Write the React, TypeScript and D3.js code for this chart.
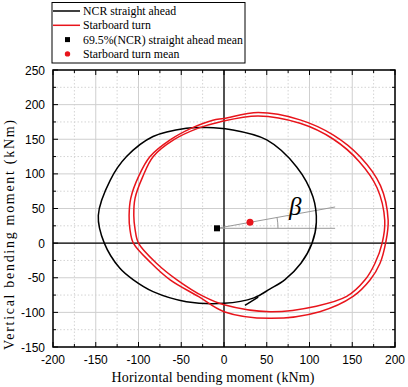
import React from "react";
import * as d3 from "d3";

// ---- data ----
const xTicks = [-200, -150, -100, -50, 0, 50, 100, 150, 200];
const yTicks = [-150, -100, -50, 0, 50, 100, 150, 200, 250];

// NCR straight ahead loop [x, y] (kNm)
const ncrLoop: [number, number][] = [
  [-20, 167], [7, 164], [50, 149], [85, 110], [104, 67], [108, 30],
  [103, 0], [90, -29], [71, -53], [54, -66], [35, -79], [0, -87],
  [-44, -84.5], [-83, -70], [-106, -53], [-122, -36], [-140, 0], [-147, 40],
  [-133, 91], [-114, 125], [-83, 154], [-44, 166],
];

// Starboard turn, two laps
const starboardLap1: [number, number][] = [
  [40, 188.5], [89, 178], [128, 156], [159, 125], [183, 83], [192, 33],
  [189, 0], [182.5, -29], [171, -53], [151, -77], [112, -99],
  [54, -108.6], [0, -99], [-30, -77], [-63, -53], [-85, -29], [-106, 0],
  [-110, 20], [-111, 40], [-109, 65], [-100, 96], [-86.5, 125], [-63, 149],
  [-38, 166], [-13, 177.5], [0, 180],
];
const starboardLap2: [number, number][] = [
  [40, 183.6], [89, 173], [128, 150], [158, 118], [179, 80], [188, 33],
  [185, 0], [176.6, -29], [165, -53], [143.5, -77], [108, -91],
  [54, -99], [0, -89], [-24, -77], [-55, -53], [-79, -29], [-100, 0],
  [-104, 20], [-105.5, 40], [-104, 65], [-95, 96], [-82.7, 125], [-59, 149],
  [-30, 166], [-5, 175],
];

const ncrMean: [number, number] = [-8.2, 21.4];
const starboardMean: [number, number] = [30.4, 30];
const betaEndX = 130;
// direction arrow on the NCR loop (tip, tail)
const arrowTip: [number, number] = [40, -78];
const arrowTail: [number, number] = [24.5, -90];

const W = 408;
const H = 387;
const margin = { left: 53, right: 13, top: 70, bottom: 40 };

export default function App() {
  const x = d3.scaleLinear().domain([-200, 200]).range([margin.left, W - margin.right]);
  const y = d3.scaleLinear().domain([-150, 250]).range([H - margin.bottom, margin.top]);
  const [x0, x1] = x.range();
  const [y0, y1] = y.range(); // y0 bottom, y1 top

  const loop = d3
    .line<[number, number]>()
    .x(d => x(d[0]))
    .y(d => y(d[1]))
    .curve(d3.curveCatmullRomClosed.alpha(0.5));

  const minorX = d3.range(-175, 200, 50);
  const minorY = d3.range(-125, 250, 50);

  // beta construction (screen space)
  const ox = x(ncrMean[0]);
  const oy = y(ncrMean[1]);
  const slope = (starboardMean[1] - ncrMean[1]) / (starboardMean[0] - ncrMean[0]);
  const betaEndY = ncrMean[1] + slope * (betaEndX - ncrMean[0]);
  const ang = Math.atan2(oy - y(betaEndY), x(betaEndX) - ox);
  const r = 61;

  const serif = "'Liberation Serif', 'Times New Roman', serif";
  const sans = "'Liberation Sans', Arial, sans-serif";

  const legendRows = [
    { kind: "line", color: "#000", text: "NCR straight ahead" },
    { kind: "line", color: "#e8141b", text: "Starboard turn" },
    { kind: "square", color: "#000", text: "69.5%(NCR) straight ahead mean" },
    { kind: "circle", color: "#e8141b", text: "Starboard turn mean" },
  ];

  return (
    <div style={{ position: "fixed", left: 0, top: 0 }}>
      <svg width={W} height={H} style={{ display: "block", background: "#fff" }}>
        {/* grid */}
        {minorX.map(v => (
          <line key={"mx" + v} x1={x(v)} x2={x(v)} y1={y0} y2={y1} stroke="#d4d4d4" strokeDasharray="1.5,2" />
        ))}
        {minorY.map(v => (
          <line key={"my" + v} x1={x0} x2={x1} y1={y(v)} y2={y(v)} stroke="#d4d4d4" strokeDasharray="1.5,2" />
        ))}
        {xTicks.map(v => (
          <line key={"gx" + v} x1={x(v)} x2={x(v)} y1={y0} y2={y1} stroke="#cfcfcf" />
        ))}
        {yTicks.map(v => (
          <line key={"gy" + v} x1={x0} x2={x1} y1={y(v)} y2={y(v)} stroke="#cfcfcf" />
        ))}

        {/* zero lines */}
        <line x1={x(0)} x2={x(0)} y1={y0} y2={y1} stroke="#000" strokeWidth={1.3} />
        <line x1={x0} x2={x1} y1={y(0)} y2={y(0)} stroke="#000" strokeWidth={1.3} />

        {/* beta annotation */}
        <g stroke="#999" strokeWidth={1} fill="none">
          <line x1={ox} y1={oy} x2={x(betaEndX)} y2={y(betaEndY)} />
          <line x1={ox} y1={oy} x2={x(betaEndX)} y2={oy} />
          <path d={`M${ox + r},${oy} A${r},${r} 0 0 0 ${ox + r * Math.cos(ang)},${oy - r * Math.sin(ang)}`} />
        </g>
        <text x={289} y={215} fontFamily={serif} fontStyle="italic" fontSize={25}>β</text>

        {/* curves */}
        <path d={loop(ncrLoop) ?? ""} fill="none" stroke="#000" strokeWidth={1.5} />
        <line x1={x(arrowTail[0])} y1={y(arrowTail[1])} x2={x(arrowTip[0])} y2={y(arrowTip[1])} stroke="#000" strokeWidth={1.5} />
        <path d={loop(starboardLap1) ?? ""} fill="none" stroke="#e8141b" strokeWidth={1.5} />
        <path d={loop(starboardLap2) ?? ""} fill="none" stroke="#e8141b" strokeWidth={1.5} />

        {/* means */}
        <rect x={x(ncrMean[0]) - 3} y={y(ncrMean[1]) - 3} width={6} height={6} fill="#000" />
        <circle cx={x(starboardMean[0])} cy={y(starboardMean[1])} r={3.5} fill="#e8141b" />

        {/* ticks, inward on all sides */}
        <g stroke="#000" strokeWidth={1}>
          {xTicks.map(v => (
            <g key={"tx" + v}>
              <line x1={x(v)} x2={x(v)} y1={y0} y2={y0 - 5} />
              <line x1={x(v)} x2={x(v)} y1={y1} y2={y1 + 5} />
            </g>
          ))}
          {minorX.map(v => (
            <g key={"tmx" + v}>
              <line x1={x(v)} x2={x(v)} y1={y0} y2={y0 - 3} />
              <line x1={x(v)} x2={x(v)} y1={y1} y2={y1 + 3} />
            </g>
          ))}
          {yTicks.map(v => (
            <g key={"ty" + v}>
              <line x1={x0} x2={x0 + 5} y1={y(v)} y2={y(v)} />
              <line x1={x1} x2={x1 - 5} y1={y(v)} y2={y(v)} />
            </g>
          ))}
          {minorY.map(v => (
            <g key={"tmy" + v}>
              <line x1={x0} x2={x0 + 3} y1={y(v)} y2={y(v)} />
              <line x1={x1} x2={x1 - 3} y1={y(v)} y2={y(v)} />
            </g>
          ))}
        </g>

        {/* frame */}
        <rect x={x0} y={y1} width={x1 - x0} height={y0 - y1} fill="none" stroke="#000" strokeWidth={1.5} />

        {/* tick labels */}
        {xTicks.map(v => (
          <text key={"lx" + v} x={x(v)} y={y0 + 17} textAnchor="middle" fontFamily={sans} fontSize={12}>{v}</text>
        ))}
        {yTicks.map(v => (
          <text key={"ly" + v} x={x0 - 8} y={y(v) + 4.5} textAnchor="end" fontFamily={sans} fontSize={12}>{v}</text>
        ))}

        {/* axis titles */}
        <text x={213} y={382} textAnchor="middle" fontFamily={serif} fontSize={14} textLength={203}>
          Horizontal bending moment (kNm)
        </text>
        <text
          transform={`translate(14,235) rotate(-90)`}
          textAnchor="middle"
          fontFamily={serif}
          fontSize={14}
          textLength={230}
        >
          Vertical bending moment (kNm)
        </text>

        {/* legend */}
        <rect x={52} y={2.5} width={193} height={60.5} fill="#fff" stroke="#000" strokeWidth={1} />
        {legendRows.map((row, i) => {
          const cy = 11 + i * 14.3;
          return (
            <g key={row.text}>
              {row.kind === "line" && <line x1={53} x2={80} y1={cy} y2={cy} stroke={row.color} strokeWidth={1.5} />}
              {row.kind === "square" && <rect x={65} y={cy - 2.5} width={5} height={5} fill={row.color} />}
              {row.kind === "circle" && <circle cx={67.5} cy={cy} r={2.7} fill={row.color} />}
              <text x={83} y={cy + 4} fontFamily={serif} fontSize={11.8}>{row.text}</text>
            </g>
          );
        })}
      </svg>
    </div>
  );
}
